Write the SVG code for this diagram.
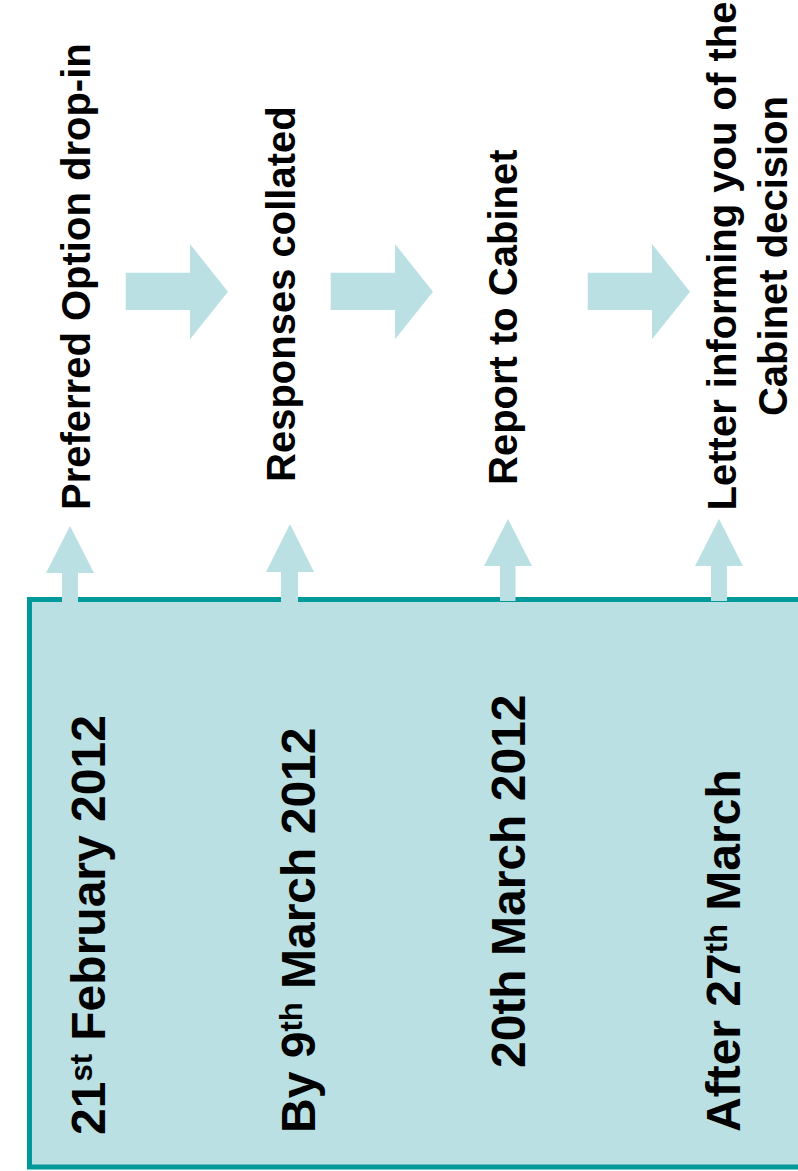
<svg xmlns="http://www.w3.org/2000/svg" width="798" height="1171" viewBox="0 0 798 1171">
<style>
.box{fill:#BBE0E3;stroke:#009999;stroke-width:5}
.arr{fill:#BBE0E3}
.lbl{font-family:"Liberation Sans",Arial,sans-serif;font-weight:bold;font-size:40px;fill:#000}
.date{font-family:"Liberation Sans",Arial,sans-serif;font-weight:bold;font-size:48px;fill:#000}
.sup{font-size:31px}
</style>
<rect width="798" height="1171" fill="#ffffff"/>
<g id="timeline-box">
<rect class="box" x="29.5" y="599.5" width="800" height="567.5"/>
</g>
<g id="connectors">
<polygon class="arr" points="125.7,272.7 190,272.7 190,244 228,291.7 190,339.3 190,310 125.7,310"/>
<polygon class="arr" points="330.7,272.7 395,272.7 395,244 433,291.7 395,339.3 395,310 330.7,310"/>
<polygon class="arr" points="587.7,272.7 652,272.7 652,244 690,291.7 652,339.3 652,310 587.7,310"/>
<polygon class="arr" points="62,603 62,573 46,573 70,526 94,573 78,573 78,603"/>
<polygon class="arr" points="281,603 281,572 266,572 290,524 314,572 298,572 298,603"/>
<polygon class="arr" points="500,601 500,566 484,566 508,519 532,566 515.5,566 515.5,601"/>
<polygon class="arr" points="711,601 711,566 695,566 719,519 743,566 727,566 727,601"/>
</g>
<g id="label-1"><text class="lbl" transform="translate(90,510) rotate(-90)">Preferred Option drop-in</text></g>
<g id="label-2"><text class="lbl" transform="translate(295,482) rotate(-90)">Responses collated</text></g>
<g id="label-3"><text class="lbl" transform="translate(517,485) rotate(-90)">Report to Cabinet</text></g>
<g id="label-4"><text class="lbl" transform="translate(736,256) rotate(-90)" text-anchor="middle"><tspan x="0" y="0">Letter informing you of the</tspan><tspan x="0" y="51">Cabinet decision</tspan></text></g>
<g id="date-1"><text class="date" transform="translate(105,1135) rotate(-90)">21<tspan class="sup" dy="-13">st</tspan><tspan dy="13"> February 2012</tspan></text></g>
<g id="date-2"><text class="date" transform="translate(315,1133) rotate(-90)">By 9<tspan class="sup" dy="-13">th</tspan><tspan dy="13"> March 2012</tspan></text></g>
<g id="date-3"><text class="date" transform="translate(525,1068) rotate(-90)">20th March 2012</text></g>
<g id="date-4"><text class="date" transform="translate(740,1132) rotate(-90)">After 27<tspan class="sup" dy="-13">th</tspan><tspan dy="13"> March</tspan></text></g>
</svg>
